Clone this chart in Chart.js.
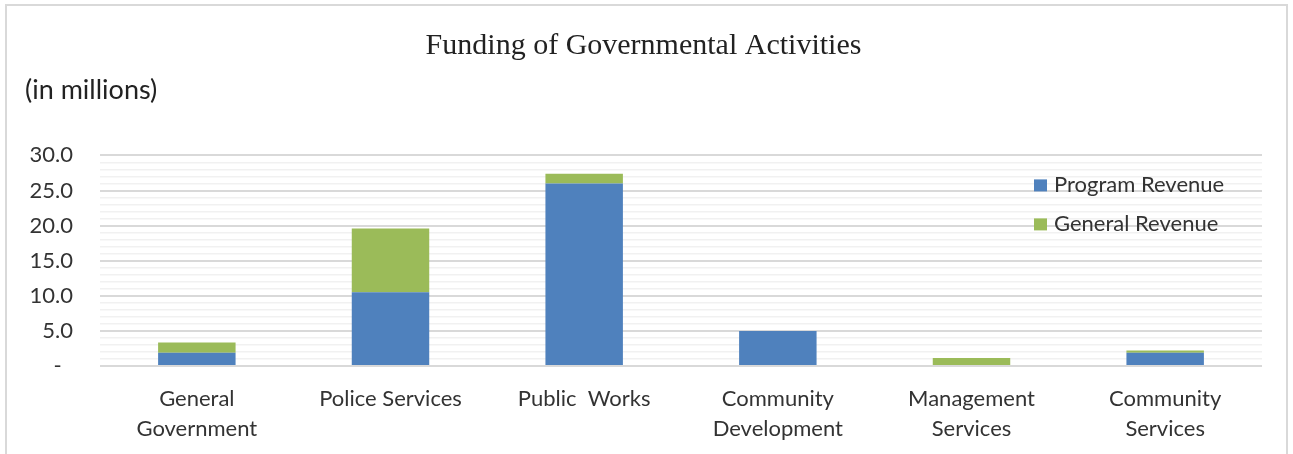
<!DOCTYPE html>
<html>
<head>
<meta charset="utf-8">
<script src="https://cdn.jsdelivr.net/npm/chart.js@4.4.1/dist/chart.umd.min.js"></script>
<style>
  html, body { margin: 0; padding: 0; background: #fff; }
  #wrap { width: 1293px; height: 454px; position: relative; }
</style>
</head>
<body>
<div id="wrap"><canvas id="funding" width="1293" height="454"></canvas></div>
<script>
const categories = [
    ['General', 'Government'],
    'Police Services',
    'Public  Works',
    ['Community', 'Development'],
    ['Management', 'Services'],
    ['Community', 'Services']
]
const programRevenue = [1.9, 10.5, 26.0, 5.0, 0, 1.9]
const generalRevenue = [1.45, 9.1, 1.4, 0, 1.15, 0.3]
const seriesNames = ['Program Revenue', 'General Revenue']
const seriesColors = ['#4f81bd', '#9bbb59']

const sansFont = 'Lato'

// outer frame like the office chart box
const framePlugin = {
    id: 'frame',
    beforeDraw(chart) {
        const ctx = chart.ctx
        ctx.save()
        ctx.strokeStyle = '#d9d9d9'
        ctx.lineWidth = 2
        ctx.strokeRect(6, 5, chart.width - 12, chart.height + 20)
        ctx.restore()
    }
}

// legend sits inside the plot, on top of the grid
const insideLegend = {
    id: 'insideLegend',
    afterDraw(chart) {
        const ctx = chart.ctx
        const area = chart.chartArea
        const x = area.right - 228
        let y = area.top + 30
        ctx.save()
        ctx.font = '22px ' + sansFont
        ctx.textBaseline = 'middle'
        chart.data.datasets.forEach(ds => {
            ctx.fillStyle = ds.backgroundColor
            ctx.fillRect(x, y - 6, 13, 12)
            ctx.fillStyle = '#333'
            ctx.fillText(ds.label, x + 20, y)
            y += 39
        })
        ctx.restore()
    }
}

const fundingChart = new Chart(document.getElementById('funding'), {
    type: 'bar',
    data: {
        labels: categories,
        datasets: [
            {label: seriesNames[0], data: programRevenue, backgroundColor: seriesColors[0]},
            {label: seriesNames[1], data: generalRevenue, backgroundColor: seriesColors[1]}
        ]
    },
    options: {
        responsive: false,
        animation: false,
        devicePixelRatio: 1,
        barPercentage: 0.4,
        categoryPercentage: 1,
        layout: {padding: {left: 25, right: 31, top: 0, bottom: 0}},
        plugins: {
            legend: {display: false},
            tooltip: {enabled: false},
            title: {
                display: true,
                text: 'Funding of Governmental Activities',
                color: '#222',
                font: {family: 'Liberation Serif', size: 30, weight: 'normal'},
                padding: {top: 28, bottom: 10}
            },
            subtitle: {
                display: true,
                text: '(in millions)',
                align: 'start',
                color: '#222',
                font: {family: sansFont, size: 27},
                padding: {top: 0, bottom: 49}
            }
        },
        scales: {
            x: {
                stacked: true,
                grid: {display: false},
                border: {display: false},
                ticks: {
                    color: '#333',
                    font: {family: sansFont, size: 22, lineHeight: 1.36},
                    padding: 10,
                    maxRotation: 0,
                    autoSkip: false
                },
                afterFit: scale => { scale.height = 88 }
            },
            y: {
                stacked: true,
                min: 0,
                max: 30,
                border: {display: false},
                grid: {
                    color: c => c.tick.value % 5 === 0 ? '#d9d9d9' : '#f1f1f1',
                    lineWidth: c => c.tick.value % 5 === 0 ? 2 : 1.5,
                    drawTicks: false
                },
                ticks: {
                    stepSize: 1,
                    autoSkip: false,
                    color: '#333',
                    font: {family: sansFont, size: 22},
                    padding: 27,
                    callback: v => v % 5 !== 0 ? '' : (v === 0 ? '-  ' : v.toFixed(1))
                },
                afterFit: scale => { scale.width = 75 }
            }
        }
    },
    plugins: [framePlugin, insideLegend]
})
</script>
</body>
</html>
